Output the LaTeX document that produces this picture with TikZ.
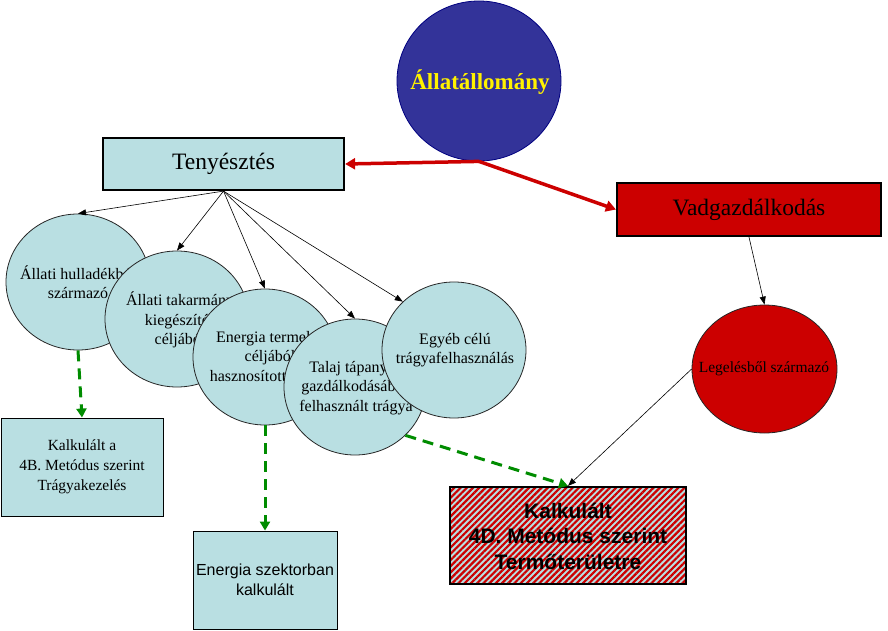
\documentclass[tikz,border=0pt]{standalone}
\usepackage{fontspec}
\setmainfont{Liberation Serif}
\setsansfont{Liberation Sans}
\usetikzlibrary{shapes.geometric,arrows.meta,patterns.meta}
\definecolor{lb}{HTML}{B9DFE2}
\definecolor{dred}{HTML}{CC0000}
\definecolor{navyfill}{HTML}{333399}
\definecolor{navyline}{HTML}{000080}
\definecolor{gdash}{HTML}{008C00}
\begin{document}
\begin{tikzpicture}[x=1pt,y=-1pt,
  bubble/.style={ellipse, draw=black!85, line width=0.8pt, fill=lb, minimum width=144pt, minimum height=136pt, inner sep=0pt},
  btxt/.style={align=center, font=\fontsize{16}{19.5}\selectfont, inner sep=0pt},
  bigbox/.style={draw=black, line width=2.2pt, inner sep=0pt, font=\fontsize{23.5}{28}\selectfont},
  smallbox/.style={draw=black, line width=0.9pt, fill=lb, inner sep=0pt, align=center},
  thinarrow/.style={draw=black, line width=0.6pt, -{Triangle[length=8pt,width=6pt]}},
  gdashed/.style={draw=gdash, line width=3pt, dash pattern=on 11pt off 7pt, -{Triangle[length=9pt,width=10pt]}},
  redarrow/.style={draw=dred, line width=3.5pt, -{Triangle[length=10pt,width=11pt]}}
]
\useasboundingbox (0,0) rectangle (888,631);

% top
\node[ellipse, draw=navyline, line width=0.8pt, fill=navyfill, minimum width=164pt, minimum height=160pt, inner sep=0pt] (all) at (479,81) {};
\node[text=yellow, font=\bfseries\fontsize{23}{27}\selectfont, inner sep=0pt] (allt) at (480,82) {Állatállomány};

\node[bigbox, fill=lb, minimum width=241pt, minimum height=52pt] (ten) at (223.5,164) {Tenyésztés};
\node[bigbox, fill=dred, minimum width=264pt, minimum height=53pt] (vad) at (749,209.5) {Vadgazdálkodás};

% bubbles
\node[bubble] (c1) at (78,282) {};
\node[btxt] (c1t) at (78,282) {Állati hulladékból\\származó};
\node[bubble] (c2) at (177,319) {};
\node[btxt] (c2t) at (180,320) {Állati takarmány\\kiegészítés\\céljából};
\node[bubble] (c3) at (265,357) {};
\node[btxt] (c3t) at (270,358) {Energia termelés\\céljából\\hasznosított trágya};
\node[bubble, minimum width=142pt] (c4) at (355,387) {};
\node[btxt] (c4t) at (356,388) {Talaj tápanyag\\gazdálkodásában\\felhasznált trágya};
\node[bubble] (c5) at (454,350) {};
\node[btxt] (c5t) at (455,350) {Egyéb célú\\trágyafelhasználás};

\node[ellipse, draw=black!85, line width=0.8pt, fill=dred, minimum width=145pt, minimum height=128pt, inner sep=0pt] (leg) at (764.5,369) {};
\node[font=\fontsize{15.5}{19}\selectfont, inner sep=0pt] (legt) at (764,369) {Legelésből származó};

% boxes
\node[smallbox, minimum width=162pt, minimum height=98pt, font=\fontsize{15.5}{20}\selectfont] (kb) at (82,467) {Kalkulált a\\4B. Metódus szerint\\Trágyakezelés};
\node[smallbox, minimum width=144pt, minimum height=98pt, font=\sffamily\fontsize{16}{20}\selectfont] (en) at (265,580) {Energia szektorban\\kalkulált};
\node[draw=black, line width=1.2pt, minimum width=236pt, minimum height=97pt, inner sep=0pt,
      preaction={fill=lb}, pattern={Lines[angle=45,distance=4.4pt,line width=2.2pt]}, pattern color=dred] (hb) at (568,535.5) {};
\node[align=center, inner sep=0pt, font=\sffamily\bfseries\fontsize{21}{25.5}\selectfont] (hbt) at (568,536) {Kalkulált\\4D. Metódus szerint\\Termőterületre};

% connectors
\draw[redarrow] (all.south) -- (ten.east);
\draw[redarrow] (all.south) -- (vad.west);
\draw[thinarrow] (ten.south) -- (c1.north);
\draw[thinarrow] (ten.south) -- (c2.north);
\draw[thinarrow] (ten.south) -- (c3.north);
\draw[thinarrow] (ten.south) -- (c4.north);
\draw[thinarrow] (ten.south) -- (c5.north west);
\draw[thinarrow] (vad.south) -- (leg.north);
\draw[thinarrow] (leg.west) -- (hb.north);
\draw[gdashed] (c1.south) -- (kb.north);
\draw[gdashed] (c3.south) -- (en.north);
\draw[gdashed] (c4.south east) -- (hb.north);
\end{tikzpicture}
\end{document}
